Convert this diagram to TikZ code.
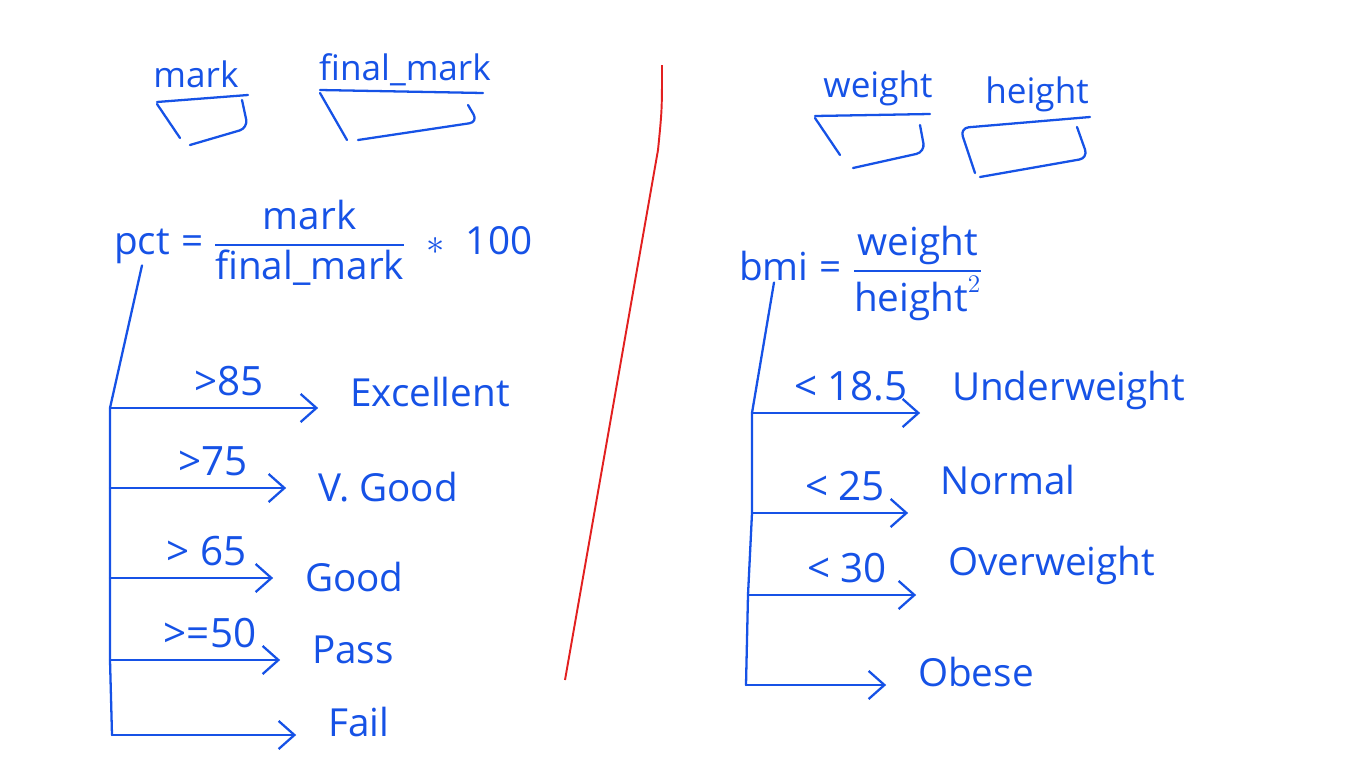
\documentclass[tikz,border=0pt]{standalone}
\usepackage{amsmath}
\usepackage{fontspec}
\setmainfont{Open Sans}
\usetikzlibrary{arrows.meta, positioning}
\definecolor{ink}{RGB}{22,82,230}
\definecolor{redpen}{RGB}{226,32,32}
\tikzset{
    hand/.style={text=ink, font=\fontsize{20}{22}\selectfont, inner sep=1pt},
    result/.style={hand, font=\fontsize{22}{24}\selectfont},
    stroke/.style={draw=ink, line width=1.3pt, line cap=round, line join=round},
    flow/.style={stroke, -{Straight Barb[length=9pt, width=16pt]}, shorten >=17pt},
    cond/.style={hand, font=\fontsize{23}{25}\selectfont, midway, above=5pt}
}

\begin{document}
\begin{tikzpicture}[x=0.02cm, y=-0.02cm]
        \useasboundingbox (0,0) rectangle (1366,768);

        \node (mark) [hand] at (196,74) {mark};
        \node (final) [hand] at (405,70) {final\_mark};
        \node (pct) [result, anchor=base] at (142,254) {pct};
        \node (pctfrac) [result, base right=4pt of pct] {= $\dfrac{\text{mark}}{\text{final\_mark}}$\; $\ast$\; 100};

        \node (exc) [result, anchor=west] at (348,392) {Excellent};
        \node (vgood) [result, anchor=west] at (316,487) {V. Good};
        \node (good) [result, anchor=west] at (303,577) {Good};
        \node (pass) [result, anchor=west] at (310,650) {Pass};
        \node (fail) [result, anchor=west] at (326,722) {Fail};

        \coordinate (l1) at (110,408);
        \coordinate (l2) at (110,488);
        \coordinate (l3) at (110,578);
        \coordinate (l4) at (110,660);
        \coordinate (l5) at (112,735);

        \node (weight) [hand] at (878,88) {weight};
        \node (height) [hand] at (1037,94) {height};
        \node (bmi) [result, anchor=base] at (774,280) {bmi};
        \node (bmifrac) [result, base right=4pt of bmi] {= $\dfrac{\text{weight}}{\text{height}^{2}}$};

        \node (under) [result, anchor=west] at (950,390) {Underweight};
        \node (normal) [result, anchor=west] at (938,480) {Normal};
        \node (over) [result, anchor=west] at (946,565) {Overweight};
        \node (obese) [result, anchor=west] at (916,672) {Obese};

        \coordinate (r1) at (752,413);
        \coordinate (r2) at (752,513);
        \coordinate (r3) at (748,595);
        \coordinate (r4) at (746,685);

        \draw[stroke] (157,102) -- (248,95);
        \draw[stroke] (157,104) -- (180,138);
        \draw[stroke, rounded corners=5pt] (242,100) -- (248,128) -- (190,145);
        \draw[stroke] (320,90) -- (483,93);
        \draw[stroke] (320,93) -- (347,140);
        \draw[stroke, rounded corners=5pt] (468,105) -- (478,122) -- (358,140);

        \draw[stroke] (815,116) -- (930,114);
        \draw[stroke] (815,118) -- (840,155);
        \draw[stroke, rounded corners=5pt] (920,125) -- (925,152) -- (853,168);
        \draw[stroke, rounded corners=5pt] (1090,117) -- (960,128) -- (975,173);
        \draw[stroke, rounded corners=5pt] (1077,127) -- (1088,158) -- (980,177);

        \draw[draw=redpen, line width=1.1pt] (662,65) .. controls (662,110) .. (658,150) -- (565,680);

        \draw[stroke] (pct.south) -- (l1) -- (l2) -- (l3) -- (l4) -- (l5);
        \draw[stroke] (bmi.south) -- (r1) -- (r2) -- (r3) -- (r4);

        \draw
            (l1) edge[flow] node[cond] {>85} (exc.west |- l1)
            (l2) edge[flow] node[cond] {>75} (vgood.west |- l2)
            (l3) edge[flow] node[cond] {> 65} (good.west |- l3)
            (l4) edge[flow] node[cond] {>=50} (pass.west |- l4)
            (l5) edge[flow] (fail.west |- l5)
            (r1) edge[flow] node[cond] {< 18.5} (under.west |- r1)
            (r2) edge[flow] node[cond] {< 25} (normal.west |- r2)
            (r3) edge[flow] node[cond] {< 30} (over.west |- r3)
            (r4) edge[flow] (obese.west |- r4)
            ;
    \end{tikzpicture}
\end{document}
